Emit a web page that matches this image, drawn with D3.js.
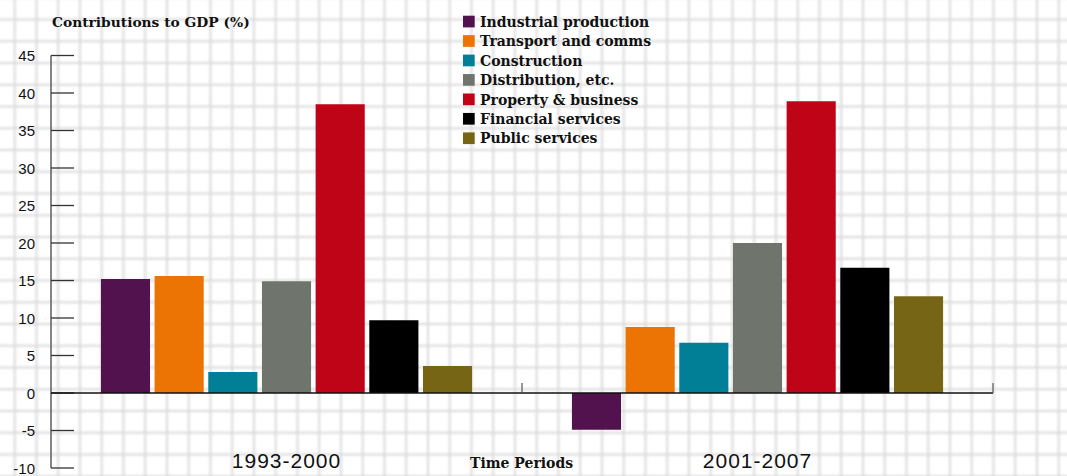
<!DOCTYPE html>
<html>
<head>
<meta charset="utf-8">
<script src="https://cdn.jsdelivr.net/npm/d3@7"></script>
<style>
  html, body { margin: 0; padding: 0; background: #ffffff; }
  svg { display: block; }
  .slab { font-family: "DejaVu Serif", serif; font-weight: bold; fill: #111; }
  .tick-label { font-family: "Liberation Sans", Arial, sans-serif; font-size: 15px; fill: #111; }
  .period { font-family: "Liberation Sans", Arial, sans-serif; font-size: 21px; fill: #111; letter-spacing: 1px; }
</style>
</head>
<body>
<div id="chart"></div>
<script>
// Contributions to GDP growth by sector, two periods
const periods = ["1993-2000", "2001-2007"];
const sectors = [
  "Industrial production",
  "Transport and comms",
  "Construction",
  "Distribution, etc.",
  "Property & business",
  "Financial services",
  "Public services"
];
const values1993 = [15.2, 15.6, 2.8, 14.9, 38.5, 9.7, 3.6];
const values2001 = [-4.9, 8.8, 6.7, 20.0, 38.9, 16.7, 12.9];
const sectorColors = ["#52124e", "#ec7404", "#007f96", "#6f746c", "#c00418", "#000000", "#776516"];
const yTicks = [-10, -5, 0, 5, 10, 15, 20, 25, 30, 35, 40, 45];

const W = 1067, H = 476;
const margin = { left: 51, right: 74, top: 55, bottom: 8 };

const svg = d3.select("#chart").append("svg")
  .attr("width", W).attr("height", H);

// Graph-paper background
const defs = svg.append("defs");
const gridStep = 21.75;
const pat = defs.append("pattern")
  .attr("id", "paper")
  .attr("patternUnits", "userSpaceOnUse")
  .attr("x", 14.7 - gridStep / 2).attr("y", 19.5 - gridStep / 2)
  .attr("width", gridStep).attr("height", gridStep);
pat.append("rect").attr("width", gridStep).attr("height", gridStep).attr("fill", "#ffffff");
pat.append("line")
  .attr("x1", gridStep / 2).attr("x2", gridStep / 2).attr("y1", 0).attr("y2", gridStep)
  .attr("stroke", "#dcdcdc").attr("stroke-width", 2.2);
pat.append("line")
  .attr("y1", gridStep / 2).attr("y2", gridStep / 2).attr("x1", 0).attr("x2", gridStep)
  .attr("stroke", "#dcdcdc").attr("stroke-width", 2.2);
defs.append("filter").attr("id", "soft")
  .attr("x", 0).attr("y", 0).attr("width", 1).attr("height", 1)
  .append("feGaussianBlur").attr("stdDeviation", 1.3);
svg.append("rect")
  .attr("x", -10).attr("y", -10).attr("width", W + 20).attr("height", H + 20)
  .attr("fill", "url(#paper)")
  .attr("filter", "url(#soft)");

// Scales
const y = d3.scaleLinear().domain([-10, 45]).range([468, 55.5]);
const x0 = d3.scaleBand().domain(periods).range([margin.left, W - margin.right])
  .paddingInner(0).paddingOuter(0);
const x1 = d3.scaleBand().domain(sectors).range([0, x0.bandwidth()])
  .paddingInner(0.085).paddingOuter(0.93);
const color = d3.scaleOrdinal().domain(sectors).range(sectorColors);

const data = periods.map((p, i) => ({
  period: p,
  values: sectors.map((s, j) => ({ sector: s, value: (i === 0 ? values1993 : values2001)[j] }))
}));

// Bars
const groups = svg.append("g").selectAll("g")
  .data(data).join("g")
  .attr("transform", d => `translate(${x0(d.period)},0)`);
groups.selectAll("rect")
  .data(d => d.values).join("rect")
  .attr("x", d => x1(d.sector))
  .attr("width", x1.bandwidth())
  .attr("y", d => y(Math.max(0, d.value)))
  .attr("height", d => Math.abs(y(d.value) - y(0)))
  .attr("fill", d => color(d.sector));

// Y axis: inward ticks, labels to the left
const yAxis = svg.append("g").attr("transform", `translate(${margin.left},0)`);
yAxis.append("line")
  .attr("x1", 0).attr("x2", 0).attr("y1", y(45)).attr("y2", y(-10))
  .attr("stroke", "#666").attr("stroke-width", 1.6);
yAxis.selectAll("line.tick").data(yTicks).join("line")
  .attr("class", "tick")
  .attr("x1", 0).attr("x2", 23)
  .attr("y1", d => y(d)).attr("y2", d => y(d))
  .attr("stroke", "#333").attr("stroke-width", 1.3);
yAxis.selectAll("text").data(yTicks).join("text")
  .attr("class", "tick-label")
  .attr("x", -16).attr("y", d => y(d) + 5.5)
  .attr("text-anchor", "end")
  .text(d => d);

// X axis at zero with upward ticks at band boundaries
const xAxis = svg.append("g").attr("transform", `translate(0,${y(0)})`);
xAxis.append("line")
  .attr("x1", margin.left).attr("x2", W - margin.right)
  .attr("stroke", "#111").attr("stroke-width", 1.5);
const bounds = [x0(periods[1]), W - margin.right];
xAxis.selectAll("line.tick").data(bounds).join("line")
  .attr("class", "tick")
  .attr("x1", d => d).attr("x2", d => d)
  .attr("y1", 0).attr("y2", -10)
  .attr("stroke", "#555").attr("stroke-width", 1.2);

// Period labels under the chart
svg.append("g").selectAll("text").data(periods).join("text")
  .attr("class", "period")
  .attr("x", d => x0(d) + x0.bandwidth() / 2)
  .attr("y", 468)
  .attr("text-anchor", "middle")
  .text(d => d);

// Axis titles
svg.append("text").attr("class", "slab")
  .attr("x", 52).attr("y", 27)
  .style("font-size", "13.8px")
  .text("Contributions to GDP (%)");
svg.append("text").attr("class", "slab")
  .attr("x", 470).attr("y", 467.5)
  .style("font-size", "14px")
  .text("Time Periods");

// Legend
const legend = svg.append("g").attr("transform", "translate(463,15.7)");
const rowH = 19.45;
const item = legend.selectAll("g").data(sectors).join("g")
  .attr("transform", (d, i) => `translate(0,${i * rowH})`);
item.append("rect")
  .attr("width", 11.7).attr("height", 11.7)
  .attr("fill", d => color(d));
item.append("text").attr("class", "slab")
  .attr("x", 17).attr("y", 11)
  .style("font-size", "14px")
  .text(d => d);
</script>
</body>
</html>
